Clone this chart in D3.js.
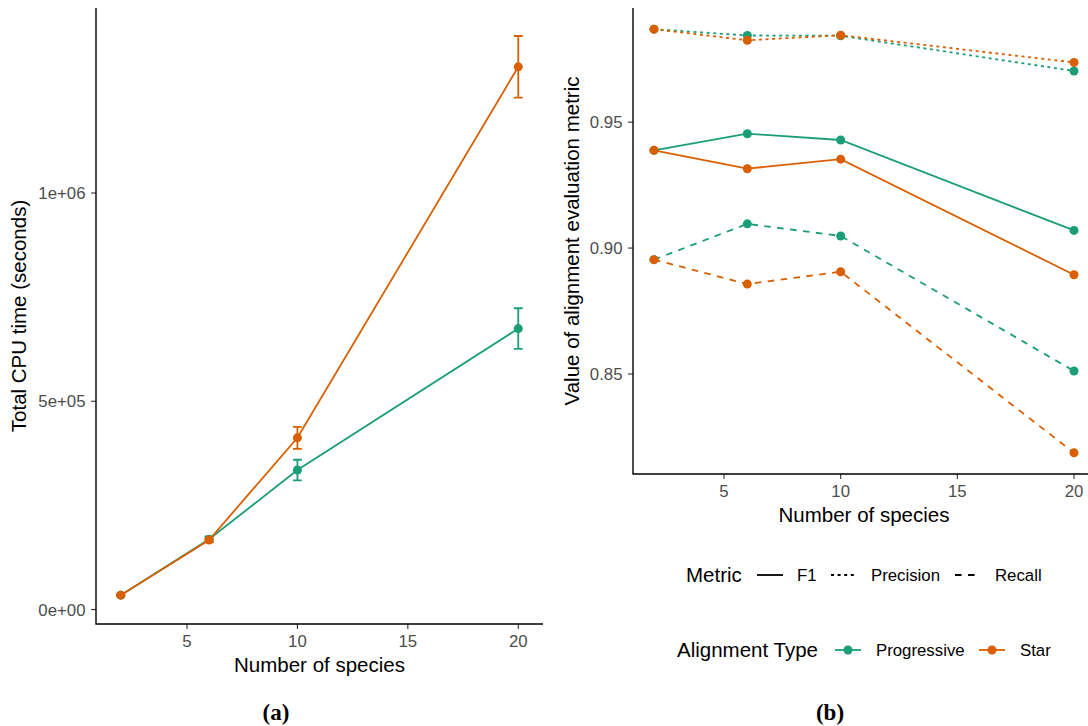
<!DOCTYPE html>
<html>
<head>
<meta charset="utf-8">
<script src="https://cdn.jsdelivr.net/npm/d3@7"></script>
<style>
  html, body { margin: 0; padding: 0; background: #fff; }
  svg { display: block; font-family: 'Liberation Sans', Arial, sans-serif; }
</style>
</head>
<body>
<script>
// values
const speciesCounts = [2, 6, 10, 20]
const speciesTicks = [5, 10, 15, 20]

const cpuProgressive = [34500, 168700, 334900, 674500]
const cpuProgressiveErr = [2000, 7000, 24700, 48900]
const cpuStar = [34500, 167000, 412300, 1303000]
const cpuStarErr = [2000, 5000, 26400, 74000]
const cpuTicks = [0, 5e5, 1e6]

const f1Progressive = [0.9388, 0.9454, 0.9429, 0.9070]
const f1Star = [0.9388, 0.9315, 0.9353, 0.8894]
const precisionProgressive = [0.9869, 0.9844, 0.9843, 0.9703]
const precisionStar = [0.9869, 0.9825, 0.9845, 0.9737]
const recallProgressive = [0.8954, 0.9096, 0.9048, 0.8512]
const recallStar = [0.8954, 0.8857, 0.8906, 0.8187]
const metricTicks = [0.85, 0.90, 0.95]

const alignmentTypes = ['Progressive', 'Star']
const metrics = ['F1', 'Precision', 'Recall']

const colors = { Progressive: '#1B9E77', Star: '#D95F02' }
const dashes = { F1: null, Precision: '3,3.6', Recall: '6.6,6.4' }

const W = 1088, H = 726
const LW = 1.8, R = 4.5, ERR_W = 0.4

const svg = d3.select('body').append('svg')
  .attr('width', W)
  .attr('height', H)

// ggplot style 5% expansion
const expand = ([a, b]) => [a - (b - a) * 0.05, b + (b - a) * 0.05]

const sciFmt = v => {
  if (v === 0) return '0e+00'
  const e = Math.floor(Math.log10(Math.abs(v)))
  const m = v / Math.pow(10, e)
  return `${Math.round(m)}e${e < 0 ? '-' : '+'}${String(Math.abs(e)).padStart(2, '0')}`
}

const drawAxes = (g, x, y, yTicks, yFmt, xTitle, yTitle, yTitleX) => {
  const [x0, x1] = x.range()
  const [y0, y1] = y.range()

  const ax = g.append('g')
  ax.selectAll('.xtick').data(speciesTicks).join('line')
    .attr('x1', d => x(d)).attr('x2', d => x(d))
    .attr('y1', y0).attr('y2', y0 + 5)
    .attr('stroke', '#333').attr('stroke-width', 1.1)
  ax.selectAll('.xlab').data(speciesTicks).join('text')
    .attr('x', d => x(d)).attr('y', y0 + 23)
    .attr('text-anchor', 'middle')
    .attr('fill', '#4D4D4D').attr('font-size', 16.8)
    .text(d => d)

  ax.selectAll('.ytick').data(yTicks).join('line')
    .attr('x1', x0 - 5).attr('x2', x0)
    .attr('y1', d => y(d)).attr('y2', d => y(d))
    .attr('stroke', '#333').attr('stroke-width', 1.1)
  ax.selectAll('.ylab').data(yTicks).join('text')
    .attr('x', x0 - 10.5).attr('y', d => y(d))
    .attr('dy', '0.36em')
    .attr('text-anchor', 'end')
    .attr('fill', '#4D4D4D').attr('font-size', 16.8)
    .text(yFmt)

  ax.append('path')
    .attr('d', `M${x0},${y1}V${y0}H${x1}`)
    .attr('fill', 'none').attr('stroke', '#000').attr('stroke-width', 1.4)

  ax.append('text')
    .attr('x', (x0 + x1) / 2).attr('y', y0 + 48)
    .attr('text-anchor', 'middle').attr('font-size', 20.5)
    .text(xTitle)
  ax.append('text')
    .attr('transform', `translate(${yTitleX},${(y0 + y1) / 2}) rotate(-90)`)
    .attr('text-anchor', 'middle').attr('font-size', 20.5)
    .text(yTitle)
}

// ---------------- (a) CPU time ----------------
const cpuSeries = [
  { type: 'Progressive', values: cpuProgressive, errs: cpuProgressiveErr },
  { type: 'Star', values: cpuStar, errs: cpuStarErr },
]
const cpuRows = s => speciesCounts.map((n, i) => ({ n, v: s.values[i], e: s.errs[i] }))

const xA = d3.scaleLinear()
  .domain(expand([speciesCounts[0] - ERR_W / 2, speciesCounts[speciesCounts.length - 1] + ERR_W / 2]))
  .range([96, 543])
const yA = d3.scaleLinear()
  .domain(expand([
    d3.min(cpuSeries, s => d3.min(s.values, (v, i) => v - s.errs[i])),
    d3.max(cpuSeries, s => d3.max(s.values, (v, i) => v + s.errs[i])),
  ]))
  .range([624, 8])

const gA = svg.append('g')
drawAxes(gA, xA, yA, cpuTicks, sciFmt, 'Number of species', 'Total CPU time (seconds)', 26)

const lineA = d3.line().x(d => xA(d.n)).y(d => yA(d.v))

cpuSeries.forEach(s => {
  const rows = cpuRows(s)
  const g = gA.append('g')
    .attr('stroke', colors[s.type]).attr('fill', colors[s.type])
  g.append('path').attr('d', lineA(rows))
    .attr('fill', 'none').attr('stroke-width', LW)
  g.selectAll('.err').data(rows).join('path')
    .attr('fill', 'none').attr('stroke-width', LW)
    .attr('d', d => {
      const xl = xA(d.n - ERR_W / 2), xr = xA(d.n + ERR_W / 2)
      const yt = yA(d.v + d.e), yb = yA(d.v - d.e)
      return `M${xl},${yt}H${xr}M${xA(d.n)},${yt}V${yb}M${xl},${yb}H${xr}`
    })
  g.selectAll('circle').data(rows).join('circle')
    .attr('cx', d => xA(d.n)).attr('cy', d => yA(d.v))
    .attr('r', R).attr('stroke', 'none')
})

// ---------------- (b) alignment metrics ----------------
const metricSeries = [
  { type: 'Progressive', metric: 'F1', values: f1Progressive },
  { type: 'Progressive', metric: 'Precision', values: precisionProgressive },
  { type: 'Progressive', metric: 'Recall', values: recallProgressive },
  { type: 'Star', metric: 'F1', values: f1Star },
  { type: 'Star', metric: 'Precision', values: precisionStar },
  { type: 'Star', metric: 'Recall', values: recallStar },
]

const xB = d3.scaleLinear()
  .domain(expand(d3.extent(speciesCounts)))
  .range([633, 1095])
const yB = d3.scaleLinear()
  .domain(expand([
    d3.min(metricSeries, s => d3.min(s.values)),
    d3.max(metricSeries, s => d3.max(s.values)),
  ]))
  .range([474, 8])

const gB = svg.append('g')
drawAxes(gB, xB, yB, metricTicks, d3.format('.2f'), 'Number of species', 'Value of alignment evaluation metric', 579)

const lineB = d3.line().x((d, i) => xB(speciesCounts[i])).y(d => yB(d))

metricSeries.forEach(s => {
  const g = gB.append('g').attr('fill', colors[s.type])
  g.append('path').attr('d', lineB(s.values))
    .attr('fill', 'none')
    .attr('stroke', colors[s.type]).attr('stroke-width', LW)
    .attr('stroke-dasharray', dashes[s.metric])
  g.selectAll('circle').data(s.values).join('circle')
    .attr('cx', (d, i) => xB(speciesCounts[i])).attr('cy', d => yB(d))
    .attr('r', R)
})

// legends
const legMetric = svg.append('g').attr('transform', 'translate(686,575)')
legMetric.append('text').attr('x', 0).attr('y', 0).attr('dy', '0.36em')
  .attr('font-size', 20.5).text('Metric')
const metricKeyX = [71, 145, 269]
metrics.forEach((m, i) => {
  legMetric.append('line')
    .attr('x1', metricKeyX[i]).attr('x2', metricKeyX[i] + 26)
    .attr('stroke', '#000').attr('stroke-width', LW)
    .attr('stroke-dasharray', dashes[m])
  legMetric.append('text')
    .attr('x', metricKeyX[i] + 40).attr('dy', '0.36em')
    .attr('font-size', 16.8).text(m)
})

const legType = svg.append('g').attr('transform', 'translate(677,650)')
legType.append('text').attr('dy', '0.36em')
  .attr('font-size', 20.5).text('Alignment Type')
const typeKeyX = [158, 302]
alignmentTypes.forEach((t, i) => {
  legType.append('line')
    .attr('x1', typeKeyX[i]).attr('x2', typeKeyX[i] + 26)
    .attr('stroke', colors[t]).attr('stroke-width', LW)
  legType.append('circle')
    .attr('cx', typeKeyX[i] + 13).attr('r', R).attr('fill', colors[t])
  legType.append('text')
    .attr('x', typeKeyX[i] + 41).attr('dy', '0.36em')
    .attr('font-size', 16.8).text(t)
})

// panel captions
svg.selectAll('.caption').data([{ label: '(a)', x: 276 }, { label: '(b)', x: 830 }]).join('text')
  .attr('x', d => d.x).attr('y', 720)
  .attr('text-anchor', 'middle')
  .attr('font-family', "'Liberation Serif', 'Times New Roman', serif")
  .attr('font-weight', 'bold').attr('font-size', 23)
  .text(d => d.label)
</script>
</body>
</html>
